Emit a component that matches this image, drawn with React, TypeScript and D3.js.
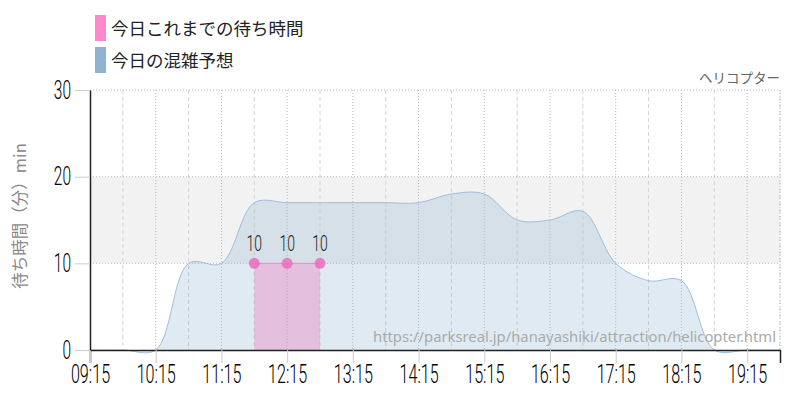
import { useEffect, useRef } from "react";
import * as d3 from "d3";

// forecast (30 min steps)
const forecastTimes = [
	"09:15", "09:45", "10:15", "10:45", "11:15", "11:45", "12:15", "12:45",
	"13:15", "13:45", "14:15", "14:45", "15:15", "15:45", "16:15", "16:45",
	"17:15", "17:45", "18:15", "18:45", "19:15", "19:45",
];
const forecastValues = [
	0, 0, 0, 10, 10, 17, 17, 17,
	17, 17, 17, 18, 18, 15, 15, 16,
	10, 8, 8, 0, 0, 0,
];

// actual waits so far today
const actualTimes = ["11:45", "12:15", "12:45"];
const actualValues = [10, 10, 10];

const xTickLabels = [
	"09:15", "10:15", "11:15", "12:15", "13:15", "14:15",
	"15:15", "16:15", "17:15", "18:15", "19:15",
];
const yTicks = [0, 10, 20, 30];

const legendLabels = ["今日これまでの待ち時間", "今日の混雑予想"];
const legendColors = ["#ff88cc", "#8fb3d1"];
const attractionName = "ヘリコプター";
const yTitle = "待ち時間（分）min";
const sourceUrl = "https://parksreal.jp/hanayashiki/attraction/helicopter.html";

const toMin = (s: string) => {
	const [h, m] = s.split(":").map(Number);
	return h * 60 + m;
};

const NUM_FONT = "Roboto, 'Liberation Sans', sans-serif";
const JP_FONT = "'Noto Sans CJK JP', 'Noto Sans', sans-serif";
const SQUEEZE = 0.62;

export default function App() {
	const ref = useRef<SVGSVGElement>(null);

	useEffect(() => {
		const svg = d3.select(ref.current);
		svg.selectAll("*").remove();

		const margin = { top: 90, right: 20, bottom: 50, left: 90 };
		const W = 800, H = 400;
		const width = W - margin.left - margin.right;
		const height = H - margin.top - margin.bottom;

		const x = d3.scaleLinear()
			.domain([toMin("09:15"), toMin("19:45")])
			.range([0, width]);
		const y = d3.scaleLinear().domain([0, 30]).range([height, 0]);

		const g = svg.append("g")
			.attr("transform", `translate(${margin.left},${margin.top})`);

		// band 10-20
		g.append("rect")
			.attr("x", 0)
			.attr("y", y(20))
			.attr("width", width)
			.attr("height", y(10) - y(20))
			.attr("fill", "#f2f2f2");

		// vertical grid: hourly dotted, half hours dashed
		const hourTicks = xTickLabels.map(toMin);
		const halfTicks = hourTicks.map(t => t + 30).filter(t => t <= x.domain()[1]);

		g.append("g").selectAll("line")
			.data(halfTicks)
			.enter()
			.append("line")
			.attr("x1", d => x(d)).attr("x2", d => x(d))
			.attr("y1", 0).attr("y2", height)
			.attr("stroke", "#d4d4d4")
			.attr("stroke-dasharray", "4,3");

		g.append("g").selectAll("line")
			.data(hourTicks.slice(1))
			.enter()
			.append("line")
			.attr("x1", d => x(d)).attr("x2", d => x(d))
			.attr("y1", 0).attr("y2", height)
			.attr("stroke", "#bbb")
			.attr("stroke-dasharray", "1,2");

		// horizontal grid
		g.append("g").selectAll("line")
			.data(yTicks.slice(1))
			.enter()
			.append("line")
			.attr("x1", 0).attr("x2", width)
			.attr("y1", d => y(d)).attr("y2", d => y(d))
			.attr("stroke", "#bbb")
			.attr("stroke-dasharray", "1,2");

		// forecast area
		const fData = forecastTimes.map((t, i) => ({ t: toMin(t), v: forecastValues[i] }));
		const area = d3.area<{ t: number; v: number }>()
			.x(d => x(d.t))
			.y0(y(0))
			.y1(d => y(d.v))
			.curve(d3.curveCatmullRom);
		const line = d3.line<{ t: number; v: number }>()
			.x(d => x(d.t))
			.y(d => y(d.v))
			.curve(d3.curveCatmullRom);

		g.append("path")
			.datum(fData)
			.attr("d", area)
			.attr("fill", "#8fb3d1")
			.attr("fill-opacity", 0.28);
		g.append("path")
			.datum(fData)
			.attr("d", line)
			.attr("fill", "none")
			.attr("stroke", "#9fbfdc")
			.attr("stroke-width", 1);

		// right border dotted
		g.append("line")
			.attr("x1", width).attr("x2", width)
			.attr("y1", 0).attr("y2", height)
			.attr("stroke", "#bbb")
			.attr("stroke-dasharray", "1,2");

		// watermark url
		g.append("text")
			.attr("x", width - 4)
			.attr("y", height - 8)
			.attr("text-anchor", "end")
			.attr("font-family", "'Noto Sans', sans-serif")
			.attr("font-size", 14.8)
			.attr("fill", "#aaa")
			.text(sourceUrl);

		// actual waits
		const aData = actualTimes.map((t, i) => ({ t: toMin(t), v: actualValues[i] }));
		g.append("path")
			.datum(aData)
			.attr("d", d3.area<{ t: number; v: number }>()
				.x(d => x(d.t))
				.y0(y(0))
				.y1(d => y(d.v)))
			.attr("fill", "rgb(235,130,195)")
			.attr("fill-opacity", 0.42);
		g.append("path")
			.datum(aData)
			.attr("d", d3.line<{ t: number; v: number }>()
				.x(d => x(d.t))
				.y(d => y(d.v)))
			.attr("fill", "none")
			.attr("stroke", "#ee88cc")
			.attr("stroke-width", 1);
		g.append("g").selectAll("circle")
			.data(aData)
			.enter()
			.append("circle")
			.attr("cx", d => x(d.t))
			.attr("cy", d => y(d.v))
			.attr("r", 5.5)
			.attr("fill", "#ee66b8")
			.attr("fill-opacity", 0.8);
		g.append("g").selectAll("text")
			.data(aData)
			.enter()
			.append("text")
			.attr("transform", d => `translate(${x(d.t)},${y(d.v) - 12}) scale(${SQUEEZE},1)`)
			.attr("text-anchor", "middle")
			.attr("font-family", NUM_FONT)
			.attr("font-weight", 300)
			.attr("font-size", 22.5)
			.attr("fill", "#222")
			.text(d => d.v);

		// x axis
		const xAxis = g.append("g")
			.attr("transform", `translate(0,${height})`)
			.call(d3.axisBottom(x)
				.tickValues(hourTicks)
				.tickSize(13)
				.tickPadding(2)
				.tickFormat((_, i) => xTickLabels[i]));
		xAxis.select(".domain").attr("stroke", "#222").attr("stroke-width", 1.5);
		xAxis.selectAll(".tick line").attr("stroke", "#ccc");
		xAxis.selectAll(".tick text")
			.attr("font-family", NUM_FONT)
			.attr("font-weight", 300)
			.attr("font-size", 26)
			.attr("fill", "#000")
			.attr("transform", `scale(${SQUEEZE},1)`);

		// y axis
		const yAxis = g.append("g")
			.call(d3.axisLeft(y)
				.tickValues(yTicks)
				.tickSize(15)
				.tickPadding(4)
				.tickSizeOuter(0));
		yAxis.select(".domain").attr("stroke", "#222").attr("stroke-width", 1.5);
		yAxis.selectAll(".tick line").attr("stroke", "#ccc");
		yAxis.selectAll(".tick text")
			.attr("x", -19 / SQUEEZE)
			.attr("font-family", NUM_FONT)
			.attr("font-weight", 300)
			.attr("font-size", 25)
			.attr("fill", "#000")
			.attr("transform", `scale(${SQUEEZE},1)`);

		// y title
		svg.append("text")
			.attr("transform", `translate(26,${margin.top + height / 2 - 4}) rotate(-90)`)
			.attr("text-anchor", "middle")
			.attr("font-family", JP_FONT)
			.attr("font-size", 16.5)
			.attr("fill", "#888")
			.text(yTitle);

		// attraction name
		svg.append("text")
			.attr("x", margin.left + width)
			.attr("y", 83)
			.attr("text-anchor", "end")
			.attr("font-family", JP_FONT)
			.attr("font-size", 13.5)
			.attr("fill", "#666")
			.text(attractionName);

		// legend
		const legend = svg.append("g").attr("transform", "translate(95,15)");
		legendLabels.forEach((label, i) => {
			const row = legend.append("g").attr("transform", `translate(0,${i * 32})`);
			row.append("rect")
				.attr("width", 11)
				.attr("height", 26)
				.attr("fill", legendColors[i]);
			row.append("text")
				.attr("x", 16)
				.attr("y", 20)
				.attr("font-family", JP_FONT)
				.attr("font-size", 17.5)
				.attr("fill", "#222")
				.text(label);
		});
	}, []);

	return (
		<div style={{ position: "fixed", left: 0, top: 0 }}>
			<svg ref={ref} width={800} height={400} style={{ display: "block", background: "#fff" }} />
		</div>
	);
}
